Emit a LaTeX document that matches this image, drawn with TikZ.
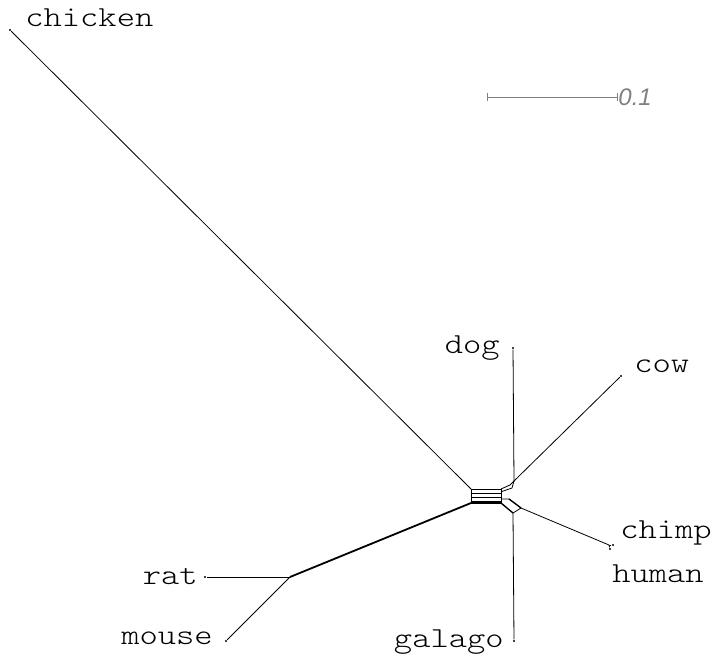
\documentclass[tikz,border=0pt]{standalone}
\usepackage{fontspec}
\newfontfamily\taxfont{lmmonolt10-regular.otf}[FakeStretch=1.2]
\newfontfamily\barfont{Liberation Sans}
\usetikzlibrary{calc}

\begin{document}
\begin{tikzpicture}
  [x=1pt,y=-1pt,line width=.8pt,
   taxon/.style={inner sep=0pt,font=\taxfont\fontsize{29}{29}\selectfont},
   tip/.style={circle,fill=black,inner sep=0pt,minimum size=2.4pt}]
  \useasboundingbox (0,0) rectangle (711,655);
  % tips of the network
  \node[tip] (chicken) at (10,30) {};
  \node[tip] (dog) at (513,348) {};
  \node[tip] (cow) at (621,376) {};
  \node[tip] (chimp) at (613,545) {};
  \node[tip] (human) at (610,549) {};
  \node[tip] (galago) at (514,641) {};
  \node[tip] (rat) at (205,577) {};
  \node[tip] (mouse) at (226,641) {};
  % labels
  \node[taxon,anchor=base west] (lchicken) at (25,27) {chicken};
  \node[taxon,anchor=base east] (ldog) at (500,353) {dog};
  \node[taxon,anchor=base west] (lcow) at (634,372) {cow};
  \node[taxon,anchor=base west] (lchimp) at (620,538) {chimp};
  \node[taxon,anchor=base west] (lhuman) at (612,582) {human};
  \node[taxon,anchor=base east] (lgalago) at (504,647) {galago};
  \node[taxon,anchor=base east] (lrat) at (198,584) {rat};
  \node[taxon,anchor=base east] (lmouse) at (213,644) {mouse};
  % inner vertices
  \coordinate (b1) at (471,489);
  \coordinate (b2) at (471,503);
  \coordinate (b3) at (501,489);
  \coordinate (b4) at (501,503);
  \coordinate (u1) at (510,485);
  \coordinate (u2) at (512,488);
  \coordinate (dc) at (514,481);
  \coordinate (l1) at (513,513);
  \coordinate (l2) at (521,508);
  \coordinate (l3) at (509,499);
  \coordinate (ro) at (290,577);
  \coordinate (hc) at (609,545);
  % box of parallel splits
  \draw (b1) -- (b2) (b3) -- (b4);
  \foreach \t in {0,.3,.6,.86}
    \draw ($(b1)!\t!(b2)$) -- ($(b3)!\t!(b4)$);
  \draw[line width=2pt] (b2) -- (b4);
  % upper right
  \draw (b3) -- (u1) -- (dc);
  \draw ($(b3)!.2!(b4)$) -- (u2) -- (dc);
  % lower right
  \draw ($(b3)!.72!(b4)$) -- (l3);
  \draw[line width=1.4pt] (b4) -- (l1);
  \draw[line width=1.4pt] (l3) -- (l2);
  \draw (l1) -- (l2);
  % edges to the tips
  \foreach \from/\to in {b1/chicken,dc/dog,dc/cow,l1/galago,l2/hc,hc/chimp,hc/human,ro/rat,ro/mouse}
    \draw (\from) -- (\to);
  \draw[line width=1.8pt] (b2) -- (ro);
  % scale bar
  \draw[gray,line width=.9pt] (487,93) -- (487,101) (487,97) -- (617,97) (617,93) -- (617,101);
  \node[gray,anchor=west,inner sep=0pt,font=\barfont\itshape\fontsize{24}{24}\selectfont] (sbar) at (618,97) {0.1};
\end{tikzpicture}
\end{document}
